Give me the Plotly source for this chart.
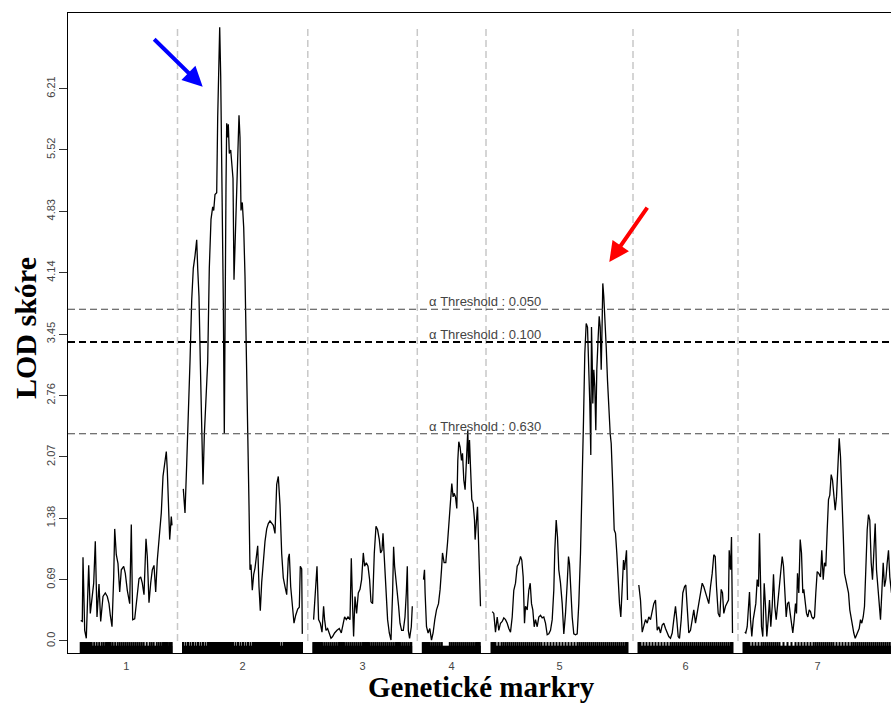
import plotly.graph_objects as go

# ---------------- data ----------------
chrom_names = ["1", "2", "3", "4", "5", "6", "7"]
chrom_len = [91.3, 119.3, 98.5, 57.7, 136, 94, 148]
chrom_gap = 11

chr1_pos = [0, 1.6, 2.3, 4, 5.6, 8, 9.6, 11.3, 13, 14.6, 16.3, 18.3, 20, 22.3, 24.6, 26.6, 28.3, 29.6, 31.3, 33, 34, 35.6, 37.3, 39, 40.6, 43, 44.6, 46.6, 49, 50.6, 52, 54, 56.3, 58.3, 60, 61.6, 63.3, 65.3, 66.6, 68.3, 70, 71.6, 73.3, 75, 76.6, 78.3, 80.6, 82.3, 84, 85.6, 86.6, 88.3, 89, 90.6, 91.3]
chr1_lod = [0.23, 0.22, 0.94, 0.12, 0.03, 0.85, 0.31, 0.46, 0.65, 1.12, 0.27, 0.64, 0.22, 0.50, 0.54, 0.50, 0.42, 0.29, 0.16, 0.72, 1.26, 0.97, 0.87, 0.55, 0.80, 0.84, 0.76, 0.57, 0.42, 1.31, 0.24, 0.25, 0.50, 0.70, 0.72, 0.65, 0.52, 1.15, 0.95, 0.43, 0.65, 0.80, 0.85, 0.55, 0.91, 1.17, 1.44, 1.85, 2.03, 2.13, 1.92, 1.47, 1.14, 1.40, 1.30]

chr2_pos = [0.3, 2, 3.7, 5.3, 7, 8.7, 10.3, 12, 13.7, 14.7, 16, 17.3, 18.7, 20, 21.3, 23, 24.7, 26.3, 28, 29.7, 30.7, 32, 33.7, 34.7, 35.7, 36.7, 37.7, 39, 40.3, 41.3, 42, 43, 43.7, 44.7, 45.3, 46.3, 47.7, 48.7, 50, 51, 52, 53.3, 54.7, 56, 57, 58, 59.3, 60.7, 62, 63.3, 64.7, 66, 67, 68, 69.3, 70.7, 72, 73.3, 74.7, 76, 77.3, 78.7, 80.3, 82, 83.7, 85.3, 87, 88.7, 90.3, 92, 93.7, 95.3, 97, 98.7, 100.3, 102, 103.7, 105.3, 106.3, 107.7, 109.3, 111, 112.7, 114.7, 116.3, 117.3, 118.7, 119.3]
chr2_lod = [1.71, 1.44, 1.99, 2.45, 3.14, 3.83, 4.19, 4.33, 4.51, 4.19, 3.87, 3.14, 2.45, 1.76, 2.31, 2.77, 3.14, 4.19, 4.74, 4.88, 4.84, 5.02, 5.04, 5.89, 6.58, 6.90, 6.35, 5.20, 3.83, 2.33, 3.83, 5.11, 5.82, 5.66, 5.81, 5.48, 5.52, 5.34, 5.20, 4.06, 4.47, 5.11, 5.66, 5.91, 5.66, 4.84, 4.93, 4.65, 4.10, 3.37, 2.45, 1.53, 0.80, 0.86, 0.57, 0.75, 0.82, 0.98, 1.07, 0.61, 0.34, 0.66, 0.93, 1.12, 1.26, 1.32, 1.35, 1.32, 1.30, 1.21, 1.76, 1.85, 1.53, 0.98, 0.71, 0.61, 0.52, 0.93, 0.98, 0.61, 0.38, 0.20, 0.29, 0.36, 0.38, 0.84, 0.81, 0.08]

chr3_pos = [0.3, 2, 3.7, 5.3, 7, 8.7, 10.3, 11.3, 12.7, 14.3, 16, 17.7, 19.3, 21.3, 23.7, 26, 28, 29.7, 31.3, 33, 34.7, 36.7, 38, 39.3, 40.3, 41.7, 43.3, 45, 46.7, 48.3, 50, 51.3, 53, 54.7, 56.3, 57.7, 59.3, 61, 62.7, 64.3, 66, 67.3, 68.7, 69.7, 71, 72.7, 74.3, 76, 77.7, 79.3, 80.3, 81.3, 82.7, 84, 85.3, 86.7, 88.3, 90, 91.7, 93, 94, 95, 96.3, 98, 99]
chr3_lod = [0.24, 0.61, 0.84, 0.24, 0.20, 0.10, 0.39, 0.24, 0.12, 0.14, 0.09, 0.03, 0.05, 0.09, 0.12, 0.14, 0.09, 0.20, 0.27, 0.24, 0.27, 0.24, 0.93, 0.39, 0.05, 0.50, 0.31, 0.54, 0.58, 0.69, 0.99, 0.84, 0.88, 0.84, 0.69, 0.44, 0.42, 0.99, 1.29, 1.25, 1.14, 0.99, 1.02, 1.21, 0.91, 0.61, 0.24, 0.09, 0.01, 0.54, 1.06, 0.84, 0.69, 0.61, 0.39, 0.20, 0.12, 0.12, 0.27, 0.54, 0.84, 0.12, 0.03, 0.16, 0.39]

chr4_pos = [0.7, 1.7, 2.3, 3.7, 5.3, 7, 8.7, 10.3, 12, 13.7, 15.7, 17.3, 18.7, 19.7, 21.3, 23, 24.7, 26.3, 28, 29, 30.3, 31.3, 32.7, 34, 35, 36, 37.3, 38.7, 39.7, 41, 42.3, 43.3, 44.3, 45, 45.7, 46.7, 47.7, 49, 50.3, 51.7, 52.3, 53.7, 54.7, 56, 57, 57.7]
chr4_lod = [0.69, 0.80, 0.54, 0.16, 0.09, 0.14, 0.01, 0.09, 0.24, 0.35, 0.42, 0.58, 0.80, 0.99, 0.88, 0.88, 1.10, 1.36, 1.62, 1.77, 1.62, 1.66, 1.62, 1.49, 2.03, 2.24, 2.18, 2.03, 2.11, 1.81, 1.70, 1.96, 2.26, 2.37, 1.99, 2.26, 1.96, 1.59, 1.55, 1.36, 1.14, 1.43, 1.51, 1.02, 0.76, 0.39]

chr5_pos = [0.7, 2.3, 4, 5.7, 7.3, 9, 10.7, 12.3, 14, 15.7, 17.3, 19, 20.7, 22.3, 24, 25.7, 27.3, 29, 30.3, 31.7, 33, 34, 35.7, 37.3, 38.7, 40, 41.3, 42.7, 44, 45.7, 47.3, 49, 50.7, 52.3, 54, 55.7, 57.3, 59, 60.7, 62.3, 63.3, 64.7, 66, 67.3, 69, 70.7, 72.3, 74, 75.7, 77, 78, 79.3, 80.7, 82.3, 84, 85.7, 87.3, 89, 90.7, 92, 93.3, 94.7, 96, 97.3, 98.3, 99.3, 100, 100.7, 101.3, 102.3, 103.3, 104.3, 105.3, 106.7, 107.7, 108.7, 109.7, 110.7, 111.3, 112.3, 113.3, 114.7, 116, 117.3, 118.7, 119.7, 120.3, 121.3, 122.7, 124, 125.3, 126.7, 128, 129.3, 130.7, 132, 133, 134, 135, 136]
chr5_lod = [0.33, 0.31, 0.10, 0.27, 0.12, 0.20, 0.22, 0.26, 0.24, 0.20, 0.14, 0.10, 0.27, 0.57, 0.65, 0.84, 0.87, 0.95, 0.91, 0.72, 0.20, 0.39, 0.35, 0.57, 0.65, 0.42, 0.35, 0.16, 0.24, 0.16, 0.27, 0.29, 0.26, 0.27, 0.20, 0.07, 0.08, 0.12, 0.24, 0.57, 1.02, 1.36, 1.17, 0.80, 0.65, 0.42, 0.08, 0.31, 0.65, 0.95, 0.87, 0.57, 0.27, 0.08, 0.07, 0.08, 0.42, 0.99, 1.73, 2.48, 3.23, 3.57, 3.53, 3.12, 2.67, 2.09, 3.53, 3.16, 2.67, 3.05, 2.86, 2.37, 3.05, 3.42, 3.65, 3.53, 3.05, 3.61, 4.02, 3.87, 3.68, 3.31, 2.93, 2.56, 2.33, 2.22, 2.07, 1.73, 1.25, 1.21, 0.99, 0.65, 0.42, 0.27, 0.57, 0.91, 0.80, 0.95, 1.02, 0.46]

chr6_pos = [0.3, 2, 3.7, 5.3, 7, 8.7, 10.3, 12, 13.7, 15.3, 17, 18.7, 20.3, 22, 23.7, 25.3, 27, 28.7, 30.3, 32, 33.7, 35.3, 37, 38.3, 39.7, 41, 42.7, 44.3, 46, 47.3, 48.7, 50.3, 52, 53.7, 55.3, 57, 58.7, 60.3, 62, 63.7, 65.3, 67, 68.7, 70.3, 72, 73.7, 75.3, 76.7, 78, 79.7, 81.3, 82.7, 84, 85.3, 87, 88.7, 90, 90.7, 92, 93, 94]
chr6_lod = [0.63, 0.46, 0.10, 0.16, 0.24, 0.20, 0.27, 0.24, 0.35, 0.42, 0.46, 0.12, 0.16, 0.09, 0.18, 0.20, 0.14, 0.09, 0.05, 0.03, 0.09, 0.24, 0.39, 0.24, 0.05, 0.03, 0.24, 0.54, 0.61, 0.63, 0.39, 0.09, 0.12, 0.24, 0.35, 0.20, 0.31, 0.39, 0.54, 0.65, 0.61, 0.54, 0.50, 0.42, 0.61, 0.76, 0.97, 0.95, 0.61, 0.31, 0.27, 0.58, 0.54, 0.31, 0.39, 0.44, 0.46, 1.02, 0.80, 1.17, 0.09]

chr7_pos = [1.3, 2.3, 3.7, 5, 6, 7, 8.3, 9.7, 11, 12.3, 13.7, 15, 16, 17, 18, 19.3, 20.7, 22, 23.3, 24.7, 26, 27.3, 28.7, 30, 31.3, 32.7, 34, 35.3, 37, 38.7, 40, 41.3, 42.7, 44, 45.3, 46.7, 48, 49.3, 50.7, 52, 53, 54, 55.3, 56.7, 58, 59.3, 60.3, 61.7, 63, 64.3, 65.7, 67, 68.3, 69.7, 71, 72.3, 73.7, 75.3, 77, 78.3, 79.7, 81, 82.3, 83.7, 85, 86.3, 87.7, 89, 90.3, 91.7, 93, 94.3, 95.7, 97, 98.3, 99.7, 101, 102.3, 103.7, 105, 106.3, 107.7, 109, 110.3, 111.7, 113, 114.3, 115.7, 117, 118.3, 119.7, 121, 122.3, 123.7, 125, 126.3, 127.7, 129, 130.3, 131.7, 133, 134.3, 135.7, 137, 138.3, 139.7, 141, 142.3, 143.7, 145, 146.3, 148]
chr7_lod = [0.10, 0.09, 0.16, 0.39, 0.55, 0.24, 0.05, 0.24, 0.35, 0.42, 0.69, 0.61, 1.21, 0.39, 0.16, 0.05, 0.65, 0.39, 0.05, 0.24, 0.46, 0.16, 0.39, 0.75, 0.39, 0.24, 0.39, 0.54, 0.80, 0.95, 0.84, 0.54, 0.27, 0.42, 0.44, 0.31, 0.16, 0.09, 0.24, 0.42, 0.31, 0.76, 0.54, 1.14, 0.99, 0.54, 0.58, 0.46, 0.31, 0.27, 0.35, 0.33, 0.27, 0.25, 0.27, 0.54, 0.78, 0.76, 0.72, 1.02, 0.69, 0.88, 0.84, 1.25, 1.59, 1.64, 1.87, 1.81, 1.59, 1.47, 1.62, 2.03, 2.28, 2.07, 1.74, 1.21, 0.76, 0.69, 0.65, 0.54, 0.35, 0.24, 0.16, 0.09, 0.03, 0.07, 0.09, 0.14, 0.24, 0.20, 0.27, 0.39, 0.80, 1.25, 1.42, 1.36, 0.88, 0.69, 0.99, 1.32, 0.80, 0.61, 0.35, 0.24, 0.54, 0.88, 0.61, 0.69, 0.88, 1.02, 0.72, 0.54]

# marker (rug) positions per chromosome
chr1_markers = [0, 1, 2, 3, 4, 5, 6, 7, 8, 9, 10, 11, 13.5, 16, 18.5, 21, 23, 25, 26, 27, 28, 29, 30, 32, 34.5, 37, 39, 41, 43, 45, 47, 49, 51, 53, 55, 57, 59, 61, 63, 66, 69, 71, 73, 76, 78, 80, 82, 83, 84, 85, 86, 87, 88.5, 90, 91]
chr2_markers = [0, 2.5, 5, 7.5, 10, 12.5, 15, 17.5, 20, 22.5, 25, 27, 29, 31, 33, 35, 37, 39, 41, 42, 43, 44, 45, 46, 48, 50, 52.5, 55, 57.5, 60, 62.5, 65, 67.5, 70, 72, 74, 76, 78, 80, 82, 84, 86, 88, 89, 90, 91, 92, 93, 94, 96, 98.5, 101, 103, 104, 105, 106, 108, 110, 112, 114, 116, 118, 119]
chr3_markers = [0, 1, 2, 3, 4, 5, 6, 7, 8, 9, 11, 13, 15, 17, 19, 21, 23, 25, 26, 27, 28, 29, 30, 31, 33, 35, 37, 39, 41, 43, 45, 47, 49, 50, 51, 52, 53, 54, 55, 56, 58, 60, 62, 64, 66, 68, 70, 72, 74, 76, 78, 80, 82, 83, 84, 85, 86, 87, 89, 91, 93, 95, 97, 98]
chr4_markers = [0, 1, 2, 3, 4, 5, 6, 7, 9, 11, 13, 15, 17, 19, 27, 29, 31, 33, 35, 37, 39, 41, 43, 45, 47, 49, 51, 53, 54, 55, 56, 57]
chr5_markers = [0, 1, 2, 3, 4, 7, 10, 12, 14, 16, 18, 20, 22, 24, 26, 28, 30, 32, 34, 36, 38, 40, 42, 44, 46, 48, 50, 53, 56, 59, 62, 65, 68, 71, 74, 77, 80, 83, 86, 88, 90, 92, 94, 96, 98, 100, 102, 104, 106, 108, 110, 112, 114, 116, 118, 120, 122, 124, 126, 128, 130, 132, 134, 135, 136]
chr6_markers = [0, 1, 2, 5, 8, 11, 14, 17, 20, 23, 26, 29, 32, 34, 36, 38, 40, 42, 44, 46, 48, 50, 52, 54, 56, 58, 60, 62, 64, 66, 68, 70, 72, 74, 76, 78, 80, 82, 84, 86, 88, 90, 92, 93, 94]
chr7_markers = [0, 1, 2, 3, 4, 5, 6, 9, 12, 15, 18, 20, 22, 24, 26, 28, 30, 32, 34, 36, 40, 44, 48, 52, 55, 58, 61, 64, 67, 70, 72, 74, 76, 78, 80, 82, 84, 86, 88, 90, 93, 96, 99, 102, 105, 108, 110, 112, 114, 116, 118, 120, 122, 124, 126, 128, 130, 132, 134, 136, 138, 140, 142, 144, 146, 148]

threshold_alpha = ["0.050", "0.100", "0.630"]
threshold_lod = [3.73, 3.36, 2.33]

y_tick_vals = [0.0, 0.69, 1.38, 2.07, 2.76, 3.45, 4.14, 4.83, 5.52, 6.21]
y_tick_text = ["0.0", "0.69", "1.38", "2.07", "2.76", "3.45", "4.14", "4.83", "5.52", "6.21"]

x_title = "Genetické markry"
y_title = "LOD skóre"

# arrows: (tip x [cM on axis], tip LOD, tail offset px)
blue_arrow = dict(x=122.0, y=6.23, ax=-50, ay=-49)
red_arrow = dict(x=528.6, y=4.26, ax=39, ay=-56)

# ---------------- build ----------------
positions = [chr1_pos, chr2_pos, chr3_pos, chr4_pos, chr5_pos, chr6_pos, chr7_pos]
lods = [chr1_lod, chr2_lod, chr3_lod, chr4_lod, chr5_lod, chr6_lod, chr7_lod]
markers = [chr1_markers, chr2_markers, chr3_markers, chr4_markers, chr5_markers, chr6_markers, chr7_markers]

starts = []
s = 0.0
for L in chrom_len:
    starts.append(s)
    s += L + chrom_gap

xs, ys = [], []
for st, p, l in zip(starts, positions, lods):
    xs += [st + v for v in p] + [None]
    ys += list(l) + [None]

rug_top = -0.012
band_top = -0.055
y_bottom = -0.135
rx, ry = [], []
for st, mk in zip(starts, markers):
    for m in mk:
        rx += [st + m, st + m, None]
        ry += [rug_top, y_bottom, None]

bx, by = [], []
for st, L in zip(starts, chrom_len):
    bx += [st, st + L, st + L, st, st, None]
    by += [y_bottom, y_bottom, band_top, band_top, y_bottom, None]

max_lod = max(max(l) for l in lods)

fig = go.Figure()
fig.add_trace(go.Scatter(x=bx, y=by, mode="lines", fill="toself", fillcolor="black",
                         line=dict(color="black", width=0.5), hoverinfo="skip", showlegend=False))
fig.add_trace(go.Scatter(x=rx, y=ry, mode="lines", line=dict(color="black", width=2),
                         hoverinfo="skip", showlegend=False))
fig.add_trace(go.Scatter(x=xs, y=ys, mode="lines", line=dict(color="black", width=1.3),
                         showlegend=False, connectgaps=False))

shapes = []
# chromosome dividers
for i in range(len(chrom_len) - 1):
    xd = starts[i] + chrom_len[i] + chrom_gap / 2
    shapes.append(dict(type="line", xref="x", yref="y", x0=xd, x1=xd, y0=0, y1=max_lod,
                       line=dict(color="#c8c8c8", width=1.5, dash="7px,4px"), layer="below"))
# thresholds
thr_styles = [dict(color="#444444", width=1.1), dict(color="black", width=2.0), dict(color="#444444", width=1.1)]
for tv, st_ in zip(threshold_lod, thr_styles):
    shapes.append(dict(type="line", xref="paper", yref="y", x0=0, x1=1, y0=tv, y1=tv,
                       line=dict(color=st_["color"], width=st_["width"], dash="7px,4px")))

annotations = []
for a, tv in zip(threshold_alpha, threshold_lod):
    annotations.append(dict(text=f"α Threshold : {a}", xref="paper", yref="y", x=0.507, y=tv,
                            xanchor="center", yanchor="bottom", yshift=-2, showarrow=False,
                            font=dict(family="Liberation Sans, Arial", size=13, color="#444444")))
for arr, col in [(blue_arrow, "blue"), (red_arrow, "red")]:
    annotations.append(dict(text="", x=arr["x"], y=arr["y"], xref="x", yref="y", ax=arr["ax"], ay=arr["ay"],
                            showarrow=True, arrowhead=2, arrowsize=1.0, arrowwidth=4, arrowcolor=col,
                            standoff=0))
annotations.append(dict(text=y_title, xref="paper", yref="paper", x=(25 - 68) / 823, y=(653 - 328) / 640,
                        textangle=-90, showarrow=False, xanchor="center", yanchor="middle",
                        font=dict(family="Liberation Serif, Times New Roman", size=30, color="black", weight="bold")))
annotations.append(dict(text=x_title, xref="paper", yref="paper", x=0.502, y=(653 - 687) / 640,
                        showarrow=False, xanchor="center", yanchor="middle",
                        font=dict(family="Liberation Serif, Times New Roman", size=29, color="black", weight="bold")))

centers = [st + L / 2 for st, L in zip(starts, chrom_len)]

fig.update_layout(
    width=891, height=704,
    margin=dict(l=68, r=0, t=13, b=51, pad=0),
    paper_bgcolor="white", plot_bgcolor="white",
    shapes=shapes, annotations=annotations,
    showlegend=False,
    xaxis=dict(range=[-12.7, 810.3], showline=True, mirror=True, linecolor="black", linewidth=1.2,
               showgrid=False, zeroline=False, tickvals=centers, ticktext=chrom_names,
               ticks="outside", ticklen=3, tickcolor="rgba(0,0,0,0)",
               tickfont=dict(family="Liberation Sans, Arial", size=11, color="#444444")),
    yaxis=dict(range=[y_bottom, 7.06], showline=True, linecolor="black", linewidth=1.2,
               showgrid=False, zeroline=False, tickvals=y_tick_vals, ticktext=y_tick_text,
               ticks="outside", ticklen=8, tickcolor="#333333", tickangle=-90,
               tickfont=dict(family="Liberation Sans, Arial", size=11, color="#444444")),
)

fig.write_html("out.html")
